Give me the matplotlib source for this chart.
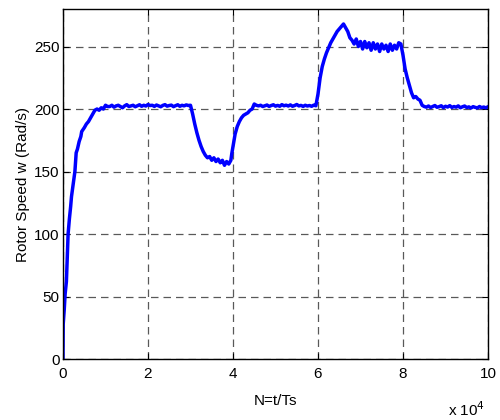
import matplotlib
matplotlib.use("Agg")
import matplotlib.pyplot as plt

plt.rcParams['font.family'] = ['Liberation Sans', 'DejaVu Sans']

# time samples (x 10^4) and rotor speed (rad/s)
t_rise = [0, 0.005, 0.03, 0.05, 0.08, 0.1, 0.12, 0.15, 0.18, 0.2, 0.24, 0.28, 0.3, 0.31, 0.34,
          0.38, 0.42, 0.44, 0.5, 0.55, 0.6, 0.65, 0.7, 0.75, 0.8, 0.85, 0.9, 0.95, 1.0, 1.05]
w_rise = [0, 28, 40, 52, 62, 80, 100, 112, 122, 130, 140, 150, 160, 165, 168,
          174, 178, 182, 185, 188, 190, 193, 196, 199, 200, 199, 201, 200, 203, 202]

t_flat1 = [1.10, 1.15, 1.20, 1.25, 1.30, 1.35, 1.40, 1.45, 1.50, 1.55, 1.60, 1.65, 1.70, 1.75,
           1.80, 1.85, 1.90, 1.95, 2.00, 2.05, 2.10, 2.15, 2.20, 2.25, 2.30, 2.35, 2.40, 2.45,
           2.50, 2.55, 2.60, 2.65, 2.70, 2.75, 2.80, 2.85, 2.90, 2.95]
w_flat1 = [202, 203, 201.5, 202.5, 203, 202, 201, 202.5, 203.5, 202, 202.5, 203, 201.8, 202.6,
           203.4, 202.2, 203, 202.4, 203.6, 202.8, 203, 202.1, 203.2, 202.5, 201.8, 202.9, 203.5, 202.3,
           202.8, 203.1, 201.9, 202.7, 203.4, 202.2, 203.0, 202.5, 203.3, 202.8]

t_dip = [3.0, 3.05, 3.1, 3.15, 3.2, 3.25, 3.3, 3.35, 3.4, 3.45, 3.5, 3.55, 3.6, 3.65, 3.7, 3.75,
         3.8, 3.85, 3.9, 3.95, 3.97, 4.0, 4.05, 4.1, 4.15, 4.2, 4.25, 4.3, 4.35, 4.4, 4.45, 4.5, 4.55]
w_dip = [203, 196, 188, 181, 175, 170, 166, 163, 161, 162, 159, 161, 158, 160, 157, 159,
         155, 158, 156, 159, 164, 170, 180, 186, 190, 193, 195, 196, 197, 199, 200, 204, 203]

t_flat2 = [4.60, 4.65, 4.70, 4.75, 4.80, 4.85, 4.90, 4.95, 5.00, 5.05, 5.10, 5.15, 5.20, 5.25,
           5.30, 5.35, 5.40, 5.45, 5.50, 5.55, 5.60, 5.65, 5.70, 5.75, 5.80, 5.85, 5.90, 5.95]
w_flat2 = [202.5, 203, 202, 202.6, 203.2, 202.1, 202.8, 203.4, 202.3, 202.9, 202.2, 203.5, 202.6, 203.1,
           202.4, 203.3, 202.2, 202.8, 203.6, 202.5, 202.9, 202.1, 203.0, 202.4, 202.8, 202.2, 203.1, 202.6]

t_over = [6.0, 6.05, 6.1, 6.15, 6.2, 6.25, 6.3, 6.35, 6.4, 6.45, 6.5, 6.55, 6.6, 6.65, 6.7, 6.75,
          6.8, 6.85, 6.9, 6.95, 7.0, 7.05, 7.1, 7.15, 7.2, 7.25, 7.3, 7.35, 7.4, 7.45, 7.5, 7.55,
          7.6, 7.65, 7.7, 7.75, 7.8, 7.85, 7.9, 7.95, 8.0, 8.05, 8.1, 8.15, 8.2, 8.25, 8.3, 8.35,
          8.4, 8.45, 8.5]
w_over = [212, 225, 234, 240, 245, 249, 253, 256, 259, 262, 264, 266, 268, 265, 262, 257,
          255, 252, 256, 250, 254, 248, 254, 249, 253, 247, 253, 248, 252, 246, 252, 248,
          251, 246, 252, 247, 251, 248, 253, 252, 243, 232, 225, 219, 213, 209, 210, 208,
          207, 203, 202]

t_flat3 = [8.55, 8.60, 8.65, 8.70, 8.75, 8.80, 8.85, 8.90, 8.95, 9.00, 9.05, 9.10, 9.15, 9.20,
           9.25, 9.30, 9.35, 9.40, 9.45, 9.50, 9.55, 9.60, 9.65, 9.70, 9.75, 9.80, 9.85, 9.90,
           9.95, 10.0]
w_flat3 = [201.5, 202.4, 201.2, 202.0, 202.8, 201.4, 201.9, 202.6, 201.1, 202.2, 201.6, 202.7, 201.3, 202.0,
           201.5, 202.5, 201.0, 201.8, 202.4, 201.2, 201.7, 200.8, 201.9, 201.3, 200.9, 202.0, 201.1, 201.6,
           200.9, 201.8]

t = t_rise + t_flat1 + t_dip + t_flat2 + t_over + t_flat3
w = w_rise + w_flat1 + w_dip + w_flat2 + w_over + w_flat3

xticks = [0, 2, 4, 6, 8, 10]
yticks = [0, 50, 100, 150, 200, 250]

fig = plt.figure(figsize=(5, 4.2), dpi=100)
ax = fig.add_axes([0.126, 0.145, 0.85, 0.8336])
ax.plot(t, w, color='#0000ff', linewidth=2.5)
ax.set_xlim(0, 10)
ax.set_ylim(0, 280)
ax.set_xticks(xticks)
ax.set_yticks(yticks)
ax.grid(True, linestyle=(0, (6, 4)), color='0.35', linewidth=0.9)
ax.tick_params(direction='in', top=True, right=True, labelsize=11, length=4, width=0.8)
ax.tick_params(axis='x', pad=6)
ax.tick_params(axis='y', pad=2.5)
for s in ax.spines.values():
    s.set_linewidth(1.0)
ax.set_xlabel('N=t/Ts', fontsize=11, labelpad=9)
ax.set_ylabel('Rotor Speed w (Rad/s)', fontsize=11, labelpad=3)
fig.text(0.897, 0.003, r'x 10$^{4}$', fontsize=11, ha='left', va='bottom')
fig.savefig('out.png', dpi=100)
